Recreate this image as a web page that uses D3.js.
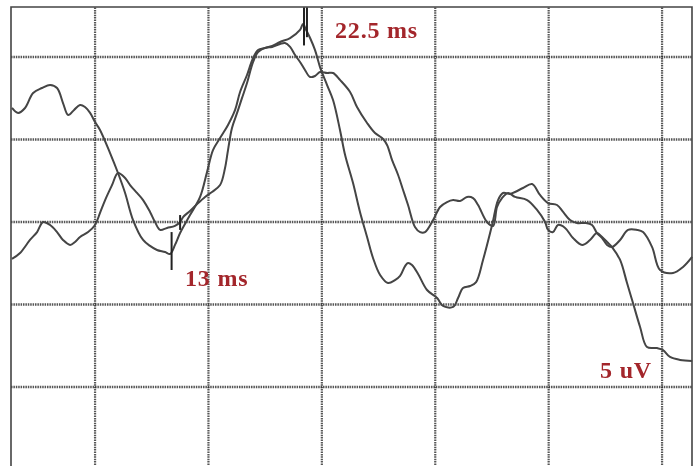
<!DOCTYPE html>
<html lang="en">
<head>
<meta charset="UTF-8">
<title>Evoked potential trace</title>
<script src="https://cdn.jsdelivr.net/npm/d3@7/dist/d3.min.js"></script>
<style>
    body { margin: 0; background: #fff; }
    svg { display: block; }
    .label { font-family: "Liberation Serif", "DejaVu Serif", serif; font-weight: bold; font-size: 24px; fill: #a3262b; letter-spacing: 0.8px; }
</style>
</head>
<body>
<svg id="chart"></svg>
<script>
// time in ms, amplitude in uV (5 uV per division, 8 ms per division)
const gridMs = [8, 16, 24, 32, 40, 48]
const gridUv = [10, 5, 0, -5, -10, -15]

const trace1Ms = [2.14, 2.57, 3.06, 3.63, 4.26, 4.83, 5.32, 5.74, 6.10, 6.52, 6.94, 7.29, 7.65, 8.00, 8.35, 9.06, 9.62, 10.12, 10.68, 11.39,
    11.88, 12.37, 12.94, 13.29, 13.64, 14.00, 14.70, 15.41, 15.90, 16.32, 16.82, 17.38, 17.88, 18.23, 18.72, 19.15, 19.50, 19.99, 20.49, 21.05,
    21.76, 22.46, 22.67, 22.89, 23.17, 23.52, 23.87, 24.37, 24.79, 25.28, 25.64, 26.20, 26.69, 27.19, 27.61, 28.11, 28.67, 29.16, 29.52, 29.87,
    30.08, 30.36, 30.79, 31.42, 32.13, 32.55, 33.26, 33.61, 33.96, 34.46, 34.88, 35.37, 36.01, 36.43, 36.78, 37.28, 37.63, 38.19, 38.83, 39.39,
    39.96, 40.59, 41.02, 41.51, 42.00, 42.57, 43.06, 43.41, 43.77, 44.12, 44.47, 45.04, 45.60, 46.24, 46.66, 47.30, 47.86, 48.78, 49.48, 50.12]
const trace1Uv = [6.91, 6.61, 6.91, 7.82, 8.12, 8.30, 8.12, 7.21, 6.48, 6.79, 7.09, 6.97, 6.61, 6.06, 5.58, 4.18, 2.97, 1.76, 0.12, -1.09,
    -1.45, -1.70, -1.82, -1.94, -1.39, -0.67, 0.42, 1.52, 3.03, 4.36, 5.09, 5.88, 6.79, 7.88, 8.91, 9.94, 10.42, 10.55, 10.67, 10.91,
    11.15, 11.64, 12.00, 11.64, 11.15, 10.42, 9.39, 8.30, 7.39, 5.58, 4.06, 2.36, 0.61, -0.91, -2.18, -3.21, -3.70, -3.52, -3.27, -2.67,
    -2.48, -2.61, -3.15, -4.12, -4.61, -5.09, -5.15, -4.61, -4.00, -3.88, -3.64, -2.30, -0.18, 1.33, 1.76, 1.70, 1.82, 2.06, 2.30, 1.64,
    1.15, 1.03, 0.61, 0.12, -0.06, -0.06, -0.18, -0.67, -0.97, -1.39, -1.52, -1.09, -0.48, -0.48, -0.61, -1.52, -2.91, -3.09, -2.73, -2.12]

const trace2Ms = [2.14, 2.71, 3.41, 3.91, 4.33, 4.83, 5.32, 5.74, 6.24, 6.59, 6.94, 7.51, 8.00, 8.35, 8.71, 9.20, 9.62, 10.12, 10.47, 10.96,
    11.39, 11.88, 12.23, 12.59, 13.08, 13.64, 14.00, 14.21, 14.70, 15.20, 15.76, 16.25, 16.82, 17.17, 17.38, 17.66, 18.02, 18.37, 18.72, 19.15,
    19.50, 19.99, 20.49, 21.05, 21.40, 21.76, 22.11, 22.46, 22.81, 23.17, 23.52, 23.87, 24.37, 24.79, 25.28, 25.99, 26.48, 27.19, 27.75, 28.25,
    28.60, 28.95, 29.38, 29.73, 30.08, 30.57, 30.93, 31.28, 31.85, 32.34, 32.83, 33.26, 33.75, 34.24, 34.67, 35.02, 35.65, 36.08, 36.36, 36.71,
    37.14, 37.63, 38.48, 39.18, 39.75, 39.96, 40.31, 40.66, 41.16, 41.72, 42.36, 42.92, 43.41, 43.77, 44.12, 44.47, 45.04, 45.53, 45.95, 46.45,
    46.94, 47.65, 48.07, 48.56, 49.27, 50.12]
const trace2Uv = [-2.24, -1.88, -1.09, -0.61, 0, -0.18, -0.61, -1.09, -1.39, -1.21, -0.91, -0.61, -0.18, 0.55, 1.33, 2.24, 2.97, 2.67, 2.24, 1.76,
    1.33, 0.61, 0, -0.48, -0.36, -0.24, 0, 0.30, 0.67, 1.09, 1.52, 1.82, 2.24, 3.27, 4.36, 5.70, 6.61, 7.52, 8.42, 9.70,
    10.30, 10.55, 10.61, 10.79, 10.85, 10.61, 10.12, 9.70, 9.21, 8.79, 8.85, 9.09, 9.03, 9.03, 8.61, 7.88, 6.97, 6.00, 5.39, 5.09,
    4.67, 3.76, 2.85, 1.94, 1.03, -0.30, -0.61, -0.61, 0.12, 0.91, 1.21, 1.33, 1.27, 1.52, 1.45, 1.03, 0, -0.24, 0.91, 1.45,
    1.76, 1.52, 1.33, 0.73, 0, -0.48, -0.61, -0.18, -0.36, -0.97, -1.39, -1.09, -0.67, -0.91, -1.21, -1.52, -2.30, -3.70, -4.91, -6.36,
    -7.58, -7.64, -7.76, -8.18, -8.36, -8.42]

// latency markers: [ms, top uV, bottom uV]
const markers = [[13.40, -0.61, -2.91], [14.00, 0.42, -0.48], [22.74, 13.0, 10.7], [22.95, 13.0, 11.2]]
const labels = ["22.5 ms", "13 ms", "5 uV"]
const labelMs = [24.93, 14.35, 43.63]
const labelUv = [11.15, -3.88, -9.45]

const width = 698, height = 466
const svg = d3.select('#chart').attr('width', width).attr('height', height)

const x = d3.scaleLinear().domain([2, 50]).range([10, 690.4])
const y = d3.scaleLinear().domain([13, -15]).range([7.5, 469.5])

// scanned look
svg.append('defs').append('filter').attr('id', 'scan')
    .append('feGaussianBlur').attr('stdDeviation', 0.5)

const grid = svg.append('g').attr('filter', 'url(#scan)')
grid.selectAll('line.v').data(gridMs).enter().append('line')
    .attr('x1', d => x(d)).attr('x2', d => x(d))
    .attr('y1', y(13)).attr('y2', height)
    .attr('stroke', '#2a2a2a').attr('stroke-width', 2.2)
    .attr('stroke-dasharray', '1.5,0.9').attr('opacity', 0.8)
grid.selectAll('line.h').data(gridUv).enter().append('line')
    .attr('x1', x(2) + 1).attr('x2', 692)
    .attr('y1', d => y(d)).attr('y2', d => y(d))
    .attr('stroke', '#2a2a2a').attr('stroke-width', 2.5)
    .attr('stroke-dasharray', '1.5,0.9').attr('opacity', 0.8)

// frame
svg.append('path')
    .attr('d', `M11,${height + 2}V7H692V${height + 2}`)
    .attr('fill', 'none').attr('stroke', '#444').attr('stroke-width', 1.6)

const line = d3.line()
    .x(d => x(d[0]))
    .y(d => y(d[1]))
    .curve(d3.curveCatmullRom.alpha(0.5))

const traces = [d3.zip(trace1Ms, trace1Uv), d3.zip(trace2Ms, trace2Uv)]
const plot = svg.append('g').attr('filter', 'url(#scan)')
plot.selectAll('path').data(traces).enter().append('path')
    .attr('d', line)
    .attr('fill', 'none')
    .attr('stroke', '#444')
    .attr('stroke-width', 2)
    .attr('stroke-linejoin', 'round')

plot.selectAll('line.mark').data(markers).enter().append('line')
    .attr('x1', d => x(d[0])).attr('x2', d => x(d[0]))
    .attr('y1', d => y(d[1])).attr('y2', d => y(d[2]))
    .attr('stroke', '#222').attr('stroke-width', 2)

svg.selectAll('text.label').data(labels).enter().append('text')
    .attr('class', 'label')
    .attr('x', (d, i) => x(labelMs[i]))
    .attr('y', (d, i) => y(labelUv[i]))
    .text(d => d)
</script>
</body>
</html>
